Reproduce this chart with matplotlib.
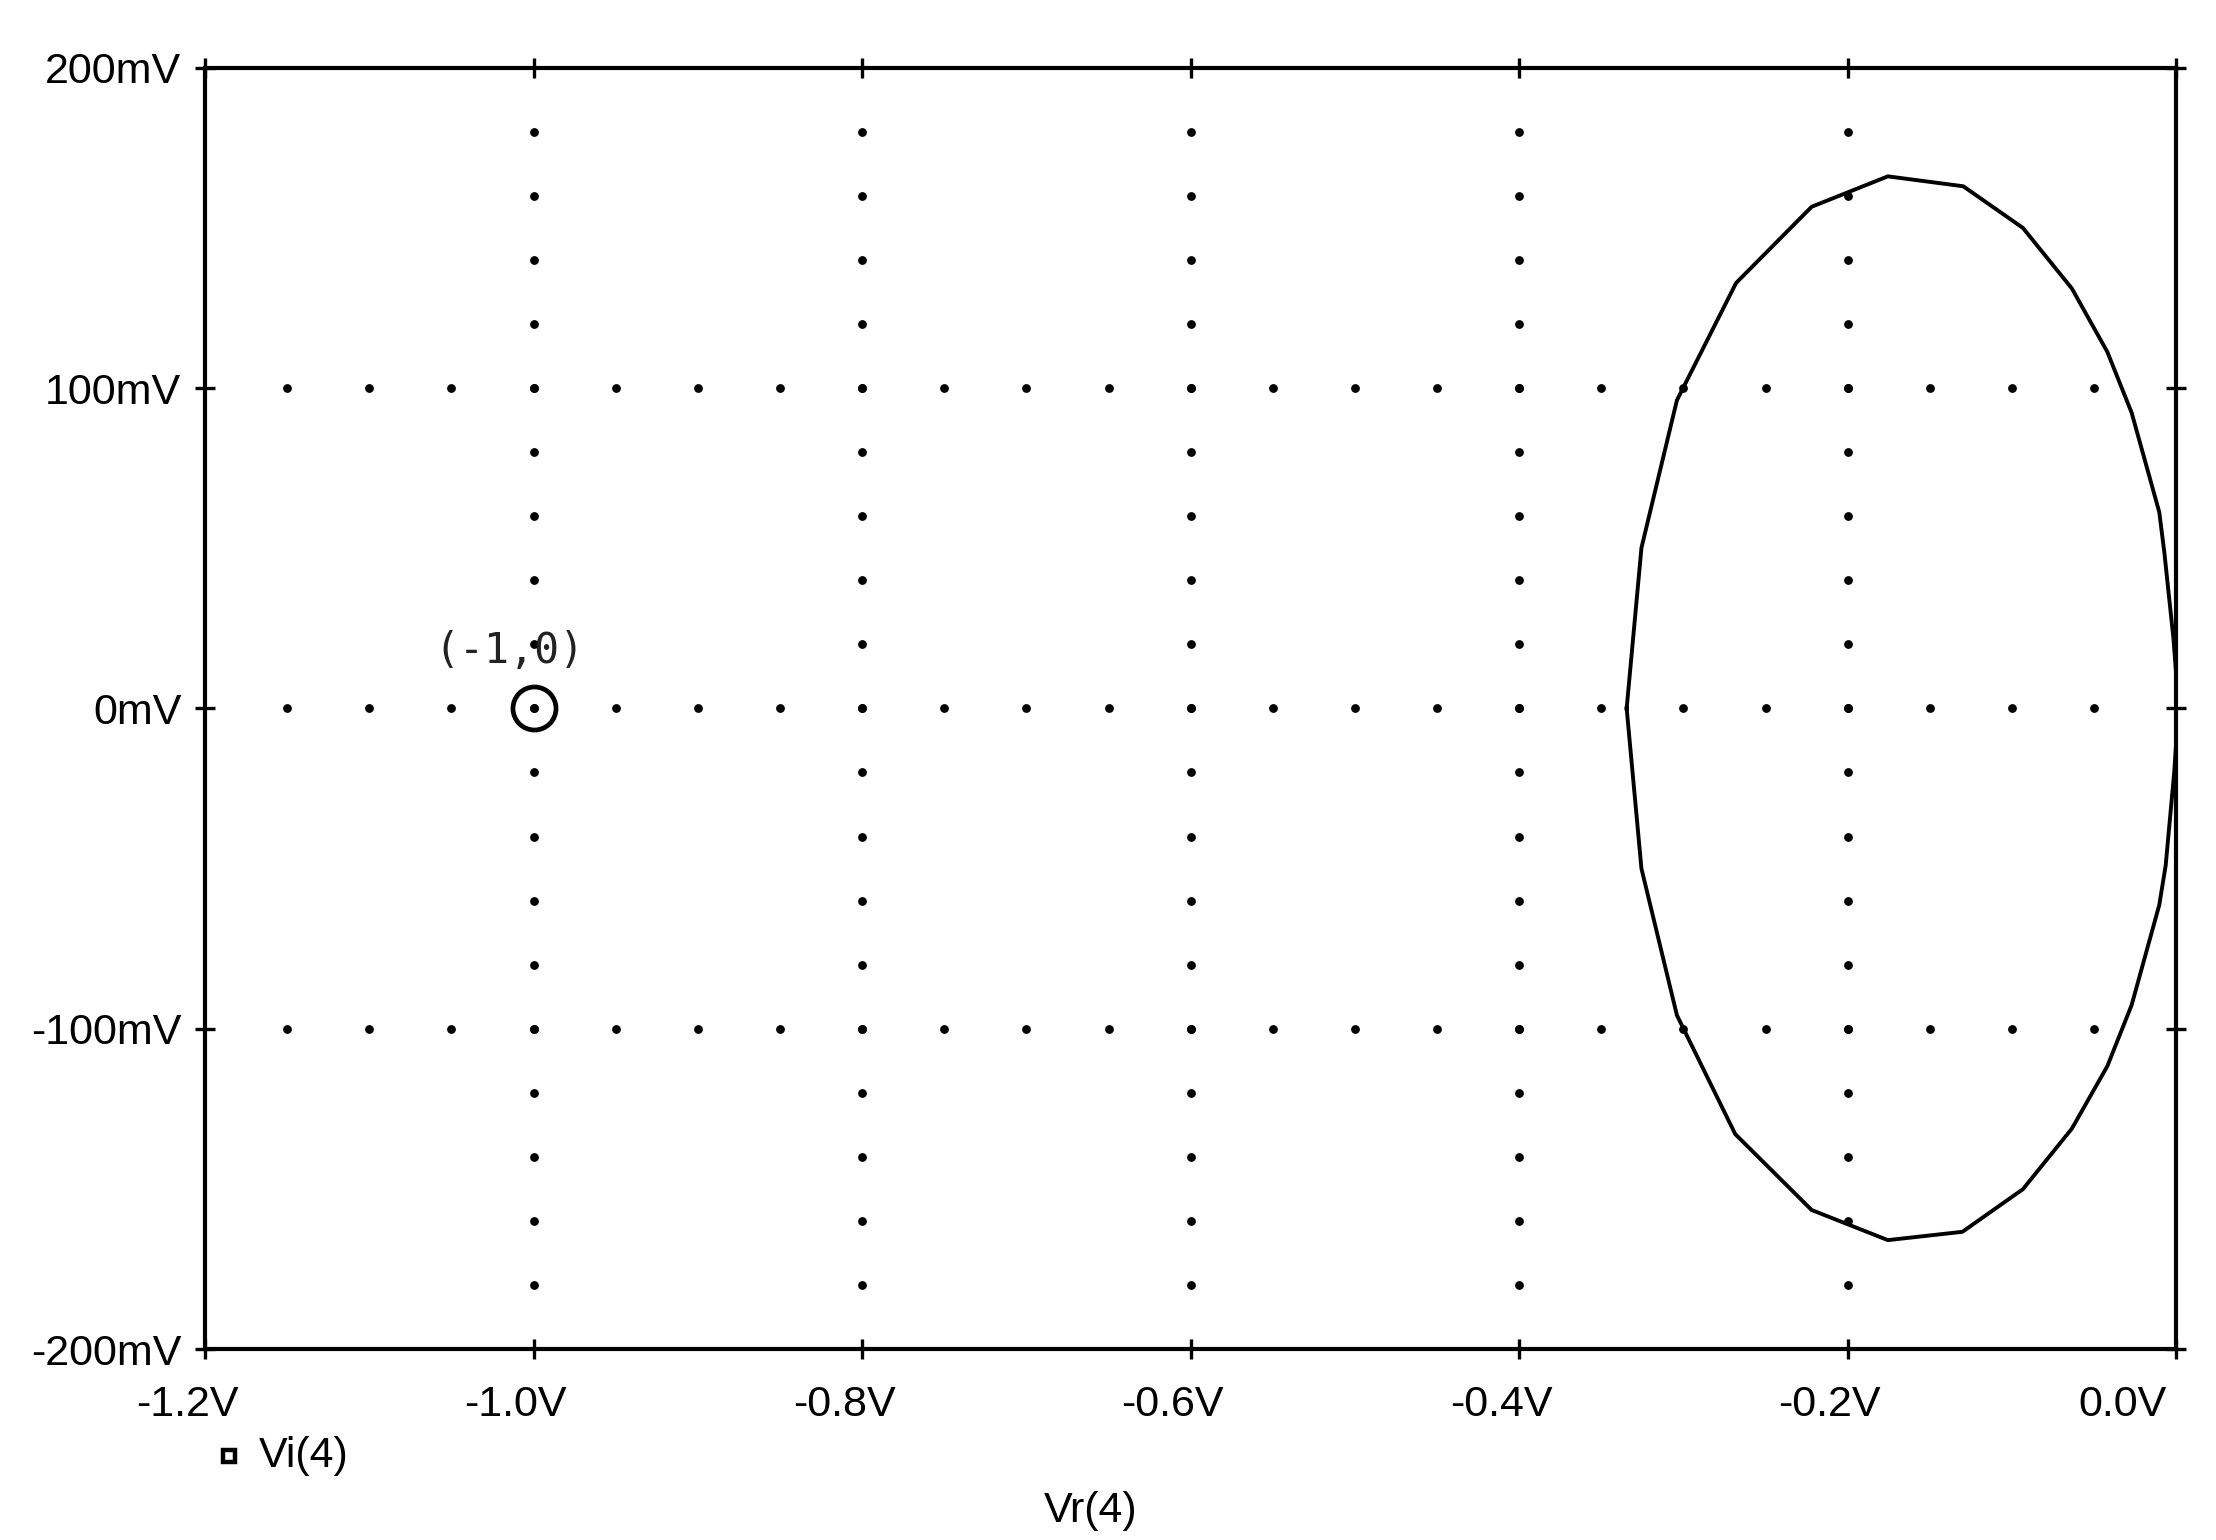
import numpy as np
import matplotlib.pyplot as plt
from matplotlib.lines import Line2D
from matplotlib.ticker import FuncFormatter
from matplotlib.transforms import ScaledTranslation

plt.rcParams['font.family'] = ['Liberation Sans', 'DejaVu Sans']

# Nyquist curve (Vr in V, Vi in mV)
vr = [-0.3346, -0.3256, -0.304, -0.268, -0.222, -0.1756, -0.1297, -0.0934,
      -0.0636, -0.042, -0.0272, -0.0104, -0.0073, -0.0018, 0.0, 0.0,
      -0.0013, -0.0065, -0.0104, -0.0272, -0.042, -0.0636, -0.0934, -0.1302,
      -0.1756, -0.222, -0.2685, -0.304, -0.3256, -0.3346]
vi_mv = [0.0, 50.1, 96.2, 132.8, 156.6, 166.1, 163.0, 150.0,
         131.1, 111.3, 92.3, 61.3, 48.7, 22.0, 10.0, -10.0,
         -20.0, -49.1, -61.4, -92.6, -111.7, -131.2, -150.1, -163.4,
         -166.0, -156.6, -132.9, -95.8, -50.0, 0.0]
vi = [v / 1000 for v in vi_mv]

crit_point = (-1.0, 0.0)
crit_label = "(-1,0)"

x_ticks = [-1.2, -1.0, -0.8, -0.6, -0.4, -0.2, 0.0]
y_ticks = [-0.2, -0.1, 0.0, 0.1, 0.2]

trace_name = "Vi(4)"
x_name = "Vr(4)"

FS = 15.5

fig = plt.figure(figsize=(11.08, 7.70), dpi=200)
ax = fig.add_axes([0.0925, 0.124, 0.8896, 0.832])

# dotted grid, like the simulator draws it
dot_kw = dict(s=10, color='black', linewidths=0, zorder=1)
gx = np.arange(-1.0, -0.19, 0.2)
gy = np.arange(-0.18, 0.181, 0.02)
for x in gx:
    ax.scatter(np.full(len(gy), x), gy, **dot_kw)
hx = np.arange(-1.15, -0.049, 0.05)
for y in [-0.1, 0.0, 0.1]:
    ax.scatter(hx, np.full(len(hx), y), **dot_kw)

ax.plot(vr, vi, color='black', lw=1.4, zorder=3)

ax.plot([crit_point[0]], [crit_point[1]], marker='o', ms=15.5, mfc='none',
        mec='black', mew=1.7, zorder=4)
ax.text(crit_point[0] - 0.015, crit_point[1] + 0.018, crit_label,
        family='DejaVu Sans Mono', fontsize=15, ha='center', va='center',
        color='#222222')

ax.set_xlim(-1.2, 0.0)
ax.set_ylim(-0.2, 0.2)
ax.set_xticks(x_ticks)
ax.set_yticks(y_ticks)
ax.xaxis.set_major_formatter(FuncFormatter(lambda v, p: f"{round(v, 1) + 0.0:.1f}V"))
ax.yaxis.set_major_formatter(FuncFormatter(lambda v, p: f"{round(v * 1000) + 0:d}mV"))
ax.tick_params(direction='inout', length=7, width=1.2, top=True, right=True,
               labelsize=FS, colors='black')
ax.tick_params(axis='x', pad=9.5)
ax.tick_params(axis='y', pad=5)
for s in ax.spines.values():
    s.set_linewidth(1.5)

# labels sit a bit left of their ticks, the last one pushed in
for i, lab in enumerate(ax.get_xticklabels()):
    dx = -0.27 if i == len(x_ticks) - 1 else -0.09
    lab.set_transform(lab.get_transform() + ScaledTranslation(dx, 0, fig.dpi_scale_trans))

fig.add_artist(Line2D([0.1033], [0.0545], transform=fig.transFigure, marker='s',
                      ms=4.3, mfc='white', mec='black', mew=1.6, ls='none'))
fig.text(0.1167, 0.0545, trace_name, fontsize=FS, ha='left', va='center')
fig.text(0.492, 0.019, x_name, fontsize=FS, ha='center', va='center')

fig.savefig("out.png", dpi=200, facecolor='white')
